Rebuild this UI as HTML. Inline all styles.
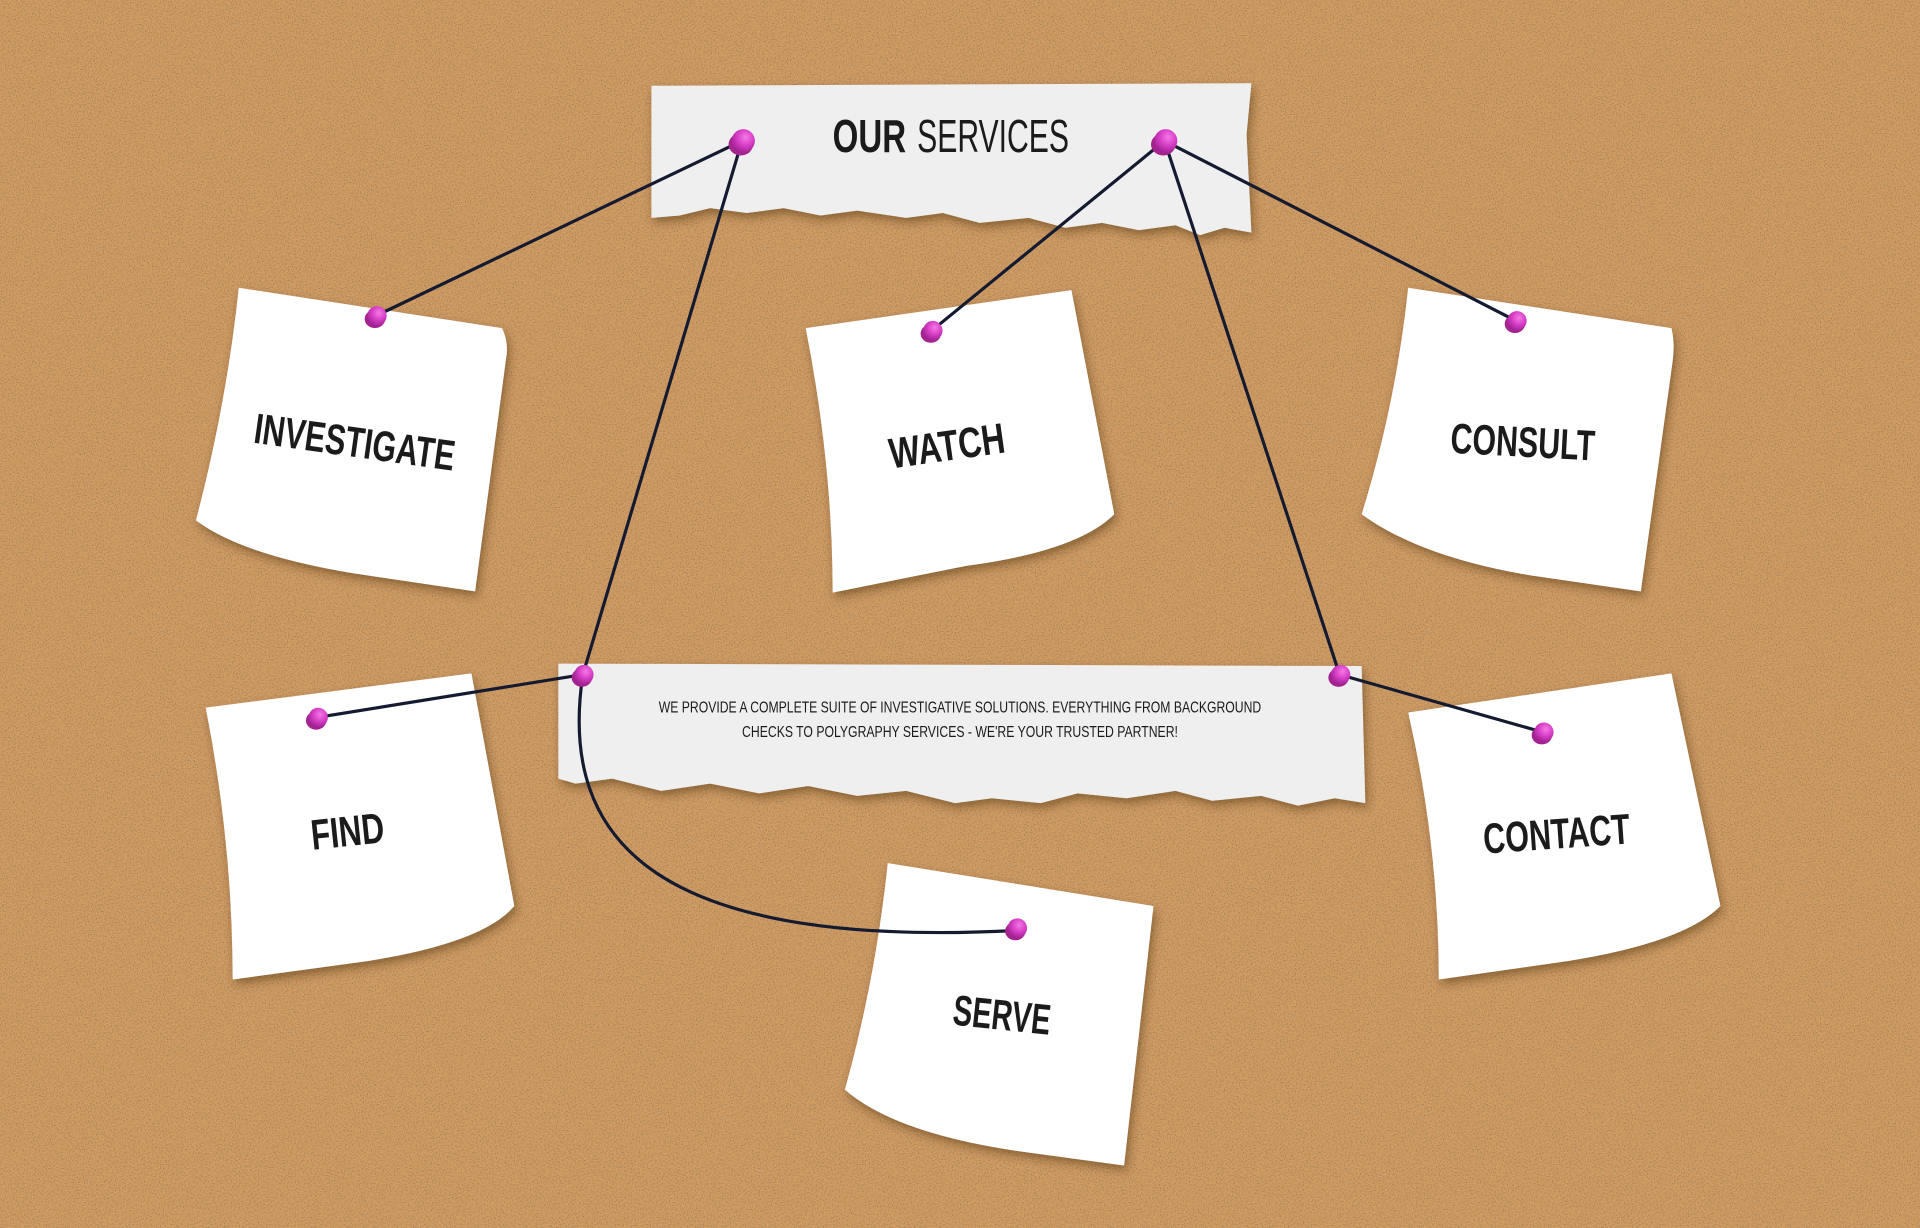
<!DOCTYPE html>
<html><head><meta charset="utf-8"><style>
html,body{margin:0;padding:0;width:1920px;height:1228px;overflow:hidden;background:#c9955d}
svg{display:block}
.t{font-family:"Liberation Sans",sans-serif;font-weight:bold;fill:#1b1b1b;text-anchor:middle}
</style></head><body>
<svg width="1920" height="1228" viewBox="0 0 1568 1003" preserveAspectRatio="none" xmlns="http://www.w3.org/2000/svg">
<defs>
<filter id="cork" x="0" y="0" width="100%" height="100%">
<feTurbulence type="fractalNoise" baseFrequency="0.9" numOctaves="2" seed="3" result="n"/>
<feColorMatrix in="n" type="matrix" values="0 0 0 0 0.35  0 0 0 0 0.22  0 0 0 0 0.1  0 0 0 -3 1.6" result="d"/>
<feComposite in="d" in2="SourceGraphic" operator="in"/>
</filter>
<filter id="sh" x="-20%" y="-20%" width="140%" height="140%"><feDropShadow dx="2" dy="4" stdDeviation="4" flood-color="#3a2410" flood-opacity="0.45"/></filter>
<radialGradient id="pin" cx="0.6" cy="0.35" r="0.7"><stop offset="0" stop-color="#f47ae6"/><stop offset="0.5" stop-color="#d83fc7"/><stop offset="1" stop-color="#9c1f8f"/></radialGradient>
<symbol id="p" viewBox="-12 -12 24 24" overflow="visible"><ellipse cx="-1" cy="3" rx="10" ry="9" fill="#a3238f"/><circle cx="1" cy="0" r="9.5" fill="url(#pin)"/></symbol>
</defs>
<rect width="1568" height="1003" fill="#d29c63"/>
<rect width="1568" height="1003" fill="#d29c63" filter="url(#cork)"/>

<g filter="url(#sh)" fill="#ffffff">
<path d="M195,235 L410,268 Q416,280 413,295 L388,483 L300,470 Q200,455 160,425 Q185,330 195,235Z"/>
<path d="M658,268 L875,237 L910,420 Q880,450 790,462 L680,484 Q680,380 658,268Z"/>
<path d="M1150,235 L1365,268 Q1368,280 1366,295 L1340,483 L1250,470 Q1160,455 1112,420 Q1140,330 1150,235Z"/>
<path d="M168,578 L385,550 L420,740 Q395,770 300,785 L190,800 Q190,690 168,578Z"/>
<path d="M1150,582 L1365,550 L1405,740 Q1375,770 1280,785 L1175,800 Q1175,690 1150,582Z"/>
<path d="M725,705 L942,740 L918,952 L830,940 Q730,925 690,890 Q715,800 725,705Z"/>
</g>
<g filter="url(#sh)" fill="#efefef">
<path d="M532,70 L1022,68 L1018,110 L1022,190 L1000,186 L980,192 L960,184 L930,188 L900,182 L870,186 L840,178 L800,182 L770,174 L740,178 L700,172 L670,176 L640,170 L610,174 L580,170 L555,176 L532,178Z"/>
<path d="M456,542 L1112,544 L1115,656 L1090,652 L1060,658 L1030,650 L990,654 L960,646 L920,652 L880,648 L850,656 L810,652 L780,656 L740,646 L700,650 L660,642 L620,648 L580,640 L540,646 L500,636 L470,640 L456,636Z"/>
</g>

<text class="t" x="680" y="124" font-size="38" textLength="60" lengthAdjust="spacingAndGlyphs" style="text-anchor:start">OUR</text>
<text class="t" x="749" y="124" font-size="38" textLength="124" lengthAdjust="spacingAndGlyphs" style="text-anchor:start;font-weight:normal">SERVICES</text>
<text class="t" x="784" y="582" font-size="13" style="font-weight:normal" textLength="492" lengthAdjust="spacingAndGlyphs">WE PROVIDE A COMPLETE SUITE OF INVESTIGATIVE SOLUTIONS. EVERYTHING FROM BACKGROUND</text>
<text class="t" x="784" y="602" font-size="13" style="font-weight:normal" textLength="356" lengthAdjust="spacingAndGlyphs">CHECKS TO POLYGRAPHY SERVICES - WE'RE YOUR TRUSTED PARTNER!</text>

<text class="t" font-size="35" textLength="165" lengthAdjust="spacingAndGlyphs" transform="translate(288,373) rotate(8)">INVESTIGATE</text>
<text class="t" font-size="35" textLength="95" lengthAdjust="spacingAndGlyphs" transform="translate(775,376) rotate(-8)">WATCH</text>
<text class="t" font-size="35" textLength="118" lengthAdjust="spacingAndGlyphs" transform="translate(1243,373) rotate(3)">CONSULT</text>
<text class="t" font-size="35" textLength="60" lengthAdjust="spacingAndGlyphs" transform="translate(285,691) rotate(-6)">FIND</text>
<text class="t" font-size="35" textLength="120" lengthAdjust="spacingAndGlyphs" transform="translate(1272,693) rotate(-4)">CONTACT</text>
<text class="t" font-size="35" textLength="80" lengthAdjust="spacingAndGlyphs" transform="translate(817,841) rotate(6)">SERVE</text>

<g stroke="#141a30" stroke-width="2.6" fill="none" stroke-linecap="round">
<line x1="606" y1="115" x2="307" y2="258"/>
<line x1="606" y1="115" x2="476" y2="551"/>
<line x1="951" y1="115" x2="761" y2="270"/>
<line x1="951" y1="115" x2="1238" y2="262"/>
<line x1="951" y1="115" x2="1094" y2="551"/>
<line x1="476" y1="551" x2="259" y2="586"/>
<line x1="1094" y1="551" x2="1260" y2="598"/>
<path d="M476,551 C455,690 540,775 830,760"/>
</g>
<g>
<use href="#p" x="594" y="103" width="24" height="24"/>
<use href="#p" x="939" y="103" width="24" height="24"/>
<use href="#p" x="297" y="248" width="20" height="20"/>
<use href="#p" x="751" y="260" width="20" height="20"/>
<use href="#p" x="1228" y="252" width="20" height="20"/>
<use href="#p" x="466" y="541" width="20" height="20"/>
<use href="#p" x="1084" y="541" width="20" height="20"/>
<use href="#p" x="249" y="576" width="20" height="20"/>
<use href="#p" x="1250" y="588" width="20" height="20"/>
<use href="#p" x="820" y="748" width="20" height="20"/>
</g>
</svg>
</body></html>
